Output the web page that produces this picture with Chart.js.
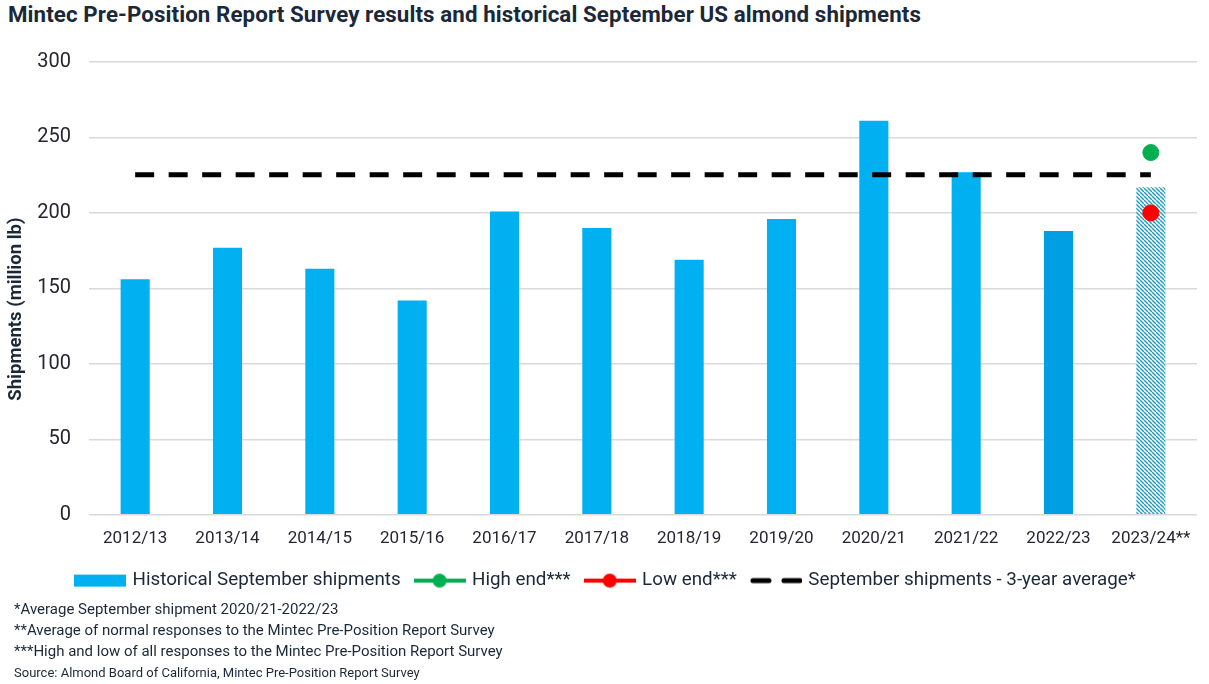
<!DOCTYPE html>
<html>
<head>
<meta charset="utf-8">
<script src="https://cdn.jsdelivr.net/npm/chart.js@4.4.0/dist/chart.umd.min.js"></script>
<style>
  body { margin: 0; background: #fff; font-family: Roboto, sans-serif; }
  #title { position: absolute; left: 8px; top: 1px; font-size: 22.3px; font-weight: bold; color: #1b2838; letter-spacing: 0.1px; }
  #wrap { position: absolute; left: 0; top: 32px; width: 1209px; height: 568px; }
  #notes { position: absolute; left: 14px; top: 599px; font-size: 15px; color: #1b2838; line-height: 21px; }
  #notes .src { font-size: 13px; }
</style>
</head>
<body>
<div id="title">Mintec Pre-Position Report Survey results and historical September US almond shipments</div>
<div id="wrap"><canvas id="almondCV"></canvas></div>
<div id="notes">
  <div>*Average September shipment 2020/21-2022/23</div>
  <div>**Average of normal responses to the Mintec Pre-Position Report Survey</div>
  <div>***High and low of all responses to the Mintec Pre-Position Report Survey</div>
  <div class="src">Source: Almond Board of California, Mintec Pre-Position Report Survey</div>
</div>
<script>
const seasons = ['2012/13', '2013/14', '2014/15', '2015/16', '2016/17', '2017/18', '2018/19', '2019/20', '2020/21', '2021/22', '2022/23', '2023/24**'];
const shipments = [156, 177, 163, 142, 201, 190, 169, 196, 261, 227, 188, 217];
const highEnd = [null, null, null, null, null, null, null, null, null, null, null, 240];
const lowEnd = [null, null, null, null, null, null, null, null, null, null, null, 200];
const threeYearAvg = [225.3, 225.3, 225.3, 225.3, 225.3, 225.3, 225.3, 225.3, 225.3, 225.3, 225.3, 225.3];
const yTicks = [0, 50, 100, 150, 200, 250, 300];

(function(){
  // hatch for the survey bar
  const pc = document.createElement('canvas');
  pc.width = 4; pc.height = 4;
  const p = pc.getContext('2d');
  p.fillStyle = '#ffffff';
  p.fillRect(0, 0, 4, 4);
  p.strokeStyle = '#1f9cc0';
  p.lineWidth = 1.4;
  [-4, 0, 4].forEach(function(o){
    p.beginPath(); p.moveTo(o, 0); p.lineTo(o + 4, 4); p.stroke();
  });
  const hatch = p.createPattern(pc, 'repeat');

  const barColors = shipments.map(function(v, i){
    if (i === shipments.length - 1) return hatch;
    if (i === shipments.length - 2) return '#009fe3';
    return '#00b0f0';
  });

  // legend icons
  function icon(draw) {
    const c = document.createElement('canvas');
    c.width = 52; c.height = 16;
    draw(c.getContext('2d'));
    return c;
  }
  const barIcon = icon(function(g){ g.fillStyle = '#00b0f0'; g.fillRect(0, 2, 52, 12); });
  function dotIcon(col) {
    return icon(function(g){
      g.strokeStyle = col; g.lineWidth = 4;
      g.beginPath(); g.moveTo(0, 8); g.lineTo(52, 8); g.stroke();
      g.fillStyle = col; g.beginPath(); g.arc(26, 8, 7, 0, Math.PI * 2); g.fill();
    });
  }
  const dashIcon = icon(function(g){
    g.strokeStyle = '#000'; g.lineWidth = 5; g.lineCap = 'round';
    g.beginPath(); g.moveTo(3, 8); g.lineTo(19, 8); g.moveTo(34, 8); g.lineTo(50, 8); g.stroke();
  });

  // nudge the legend row a little to the right, like the original
  const legendShift = {
    id: 'legendShift',
    afterLayout: function(chart) {
      if (chart.legend) { chart.legend.left += 8; chart.legend.right += 8; }
    }
  };

  const ctx = document.getElementById('almondCV');

  new Chart(ctx, {
    data: {
      labels: seasons,
      datasets: [{
        type: 'line',
        label: 'High end***',
        data: highEnd,
        borderColor: '#00b050',
        backgroundColor: '#00b050',
        pointRadius: 8,
        showLine: false,
        order: 0
      }, {
        type: 'line',
        label: 'Low end***',
        data: lowEnd,
        borderColor: '#ff0000',
        backgroundColor: '#ff0000',
        pointRadius: 8,
        showLine: false,
        order: 0
      }, {
        type: 'line',
        label: 'September shipments - 3-year average*',
        data: threeYearAvg,
        borderColor: '#000000',
        borderWidth: 5,
        borderDash: [19, 14.5],
        pointRadius: 0,
        order: 1
      }, {
        type: 'bar',
        label: 'Historical September shipments',
        data: shipments,
        backgroundColor: barColors,
        categoryPercentage: 1,
        barPercentage: 0.315,
        order: 2
      }]
    },
    plugins: [legendShift],
    options: {
      responsive: true,
      maintainAspectRatio: false,
      animation: false,
      layout: {
        padding: { top: 4, right: 12, left: 0, bottom: 0 }
      },
      scales: {
        x: {
          grid: { display: false },
          border: { display: false },
          ticks: { color: '#262633', font: { family: 'Roboto', size: 17 }, padding: 6 }
        },
        y: {
          min: 0,
          max: 300,
          afterBuildTicks: function(axis) {
            axis.ticks = yTicks.map(function(v){ return { value: v }; });
          },
          afterFit: function(axis) { axis.width = 89; },
          grid: { color: '#d9d9d9', lineWidth: 1.5, drawTicks: false },
          border: { display: false },
          ticks: { color: '#262633', font: { family: 'Roboto', size: 20 }, padding: 18 },
          title: {
            display: true,
            // trailing spaces push the rotated text a bit lower, as in the original
            text: 'Shipments (million lb)         ',
            color: '#1b2838',
            font: { family: 'Roboto', size: 18.5, weight: 'bold' },
            padding: { top: 5, bottom: 0 }
          }
        }
      },
      plugins: {
        legend: {
          position: 'bottom',
          labels: {
            usePointStyle: true,
            pointStyleWidth: 46,
            padding: 16,
            color: '#1b2838',
            font: { family: 'Roboto', size: 18.8 },
            generateLabels: function() {
              return [
                { text: 'Historical September shipments', pointStyle: barIcon, datasetIndex: 3 },
                { text: 'High end***', pointStyle: dotIcon('#00b050'), datasetIndex: 0 },
                { text: 'Low end***', pointStyle: dotIcon('#ff0000'), datasetIndex: 1 },
                { text: 'September shipments - 3-year average*', pointStyle: dashIcon, datasetIndex: 2 }
              ].map(function(l){ l.fontColor = '#1b2838'; l.strokeStyle = 'transparent'; l.lineWidth = 0; return l; });
            }
          }
        },
        tooltip: { enabled: false }
      }
    }
  });
})();
</script>
</body>
</html>
